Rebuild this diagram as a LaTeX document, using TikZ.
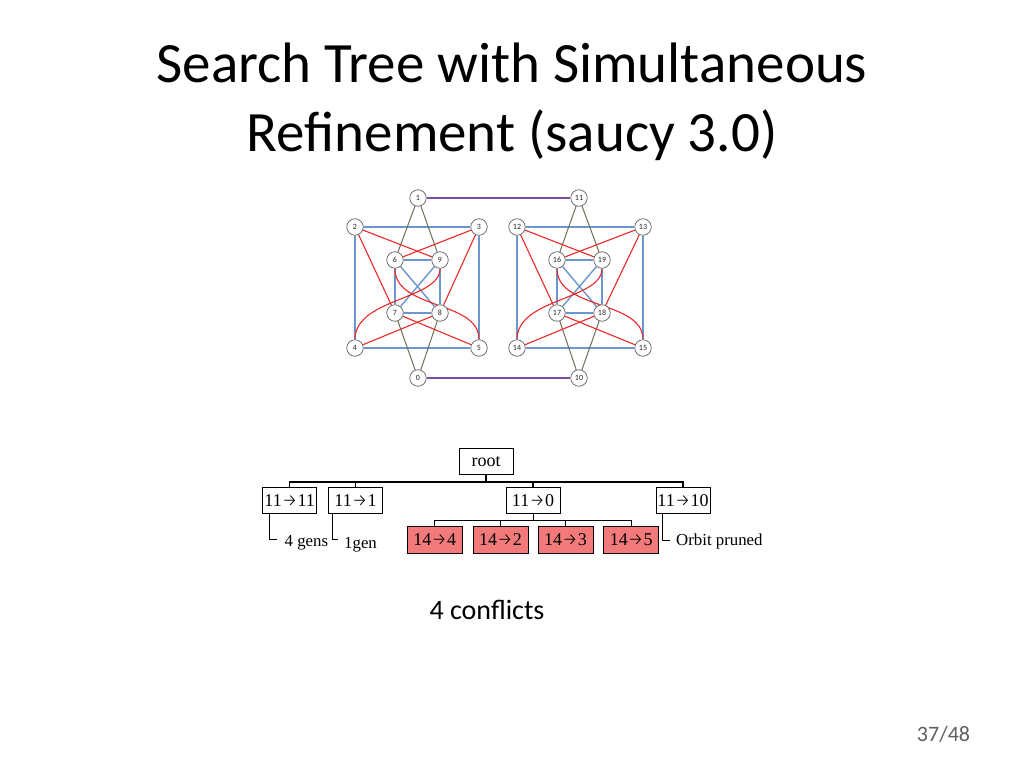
\documentclass[tikz,border=0pt]{standalone}
\usepackage{fontspec}
\setmainfont{Liberation Serif}
\newfontfamily\calibri{Carlito}
\newfontfamily\arrowfont{Fira Sans Light}
\newcommand{\arr}{{\arrowfont\fontsize{17.5}{18}\selectfont →}}
\usetikzlibrary{calc,backgrounds}
\pgfdeclarelayer{bottom}
\pgfsetlayers{bottom,background,main}
\definecolor{edgeblue}{RGB}{108,150,205}
\definecolor{edgered}{RGB}{236,40,40}
\definecolor{edgeolive}{RGB}{112,112,88}
\definecolor{edgepurple}{RGB}{125,75,160}
\definecolor{nodegray}{RGB}{95,95,95}
\definecolor{boxred}{RGB}{242,122,122}
\definecolor{pagegray}{RGB}{95,95,95}
\begin{document}
\begin{tikzpicture}[x=1pt,y=-1pt,
  gnode/.style={circle, draw=nodegray, fill=white, minimum size=16.5pt, inner sep=0pt, line width=0.7pt, text=black!85, font=\calibri\fontsize{8}{8}\selectfont},
  tbox/.style={draw=black, line width=0.8pt, fill=white, minimum width=54pt, minimum height=26pt, inner sep=0pt, font=\fontsize{18}{20}\selectfont},
  rbox/.style={tbox, fill=boxred, minimum width=55pt, minimum height=27pt},
  blueE/.style={draw=edgeblue, line width=1.4pt},
  redE/.style={draw=edgered, line width=1.1pt},
  oliveE/.style={draw=edgeolive, line width=1pt},
  purpE/.style={draw=edgepurple, line width=1.2pt},
  conn/.style={draw=black, line width=1.3pt},
  lconn/.style={draw=black, line width=0.9pt},
  note/.style={inner sep=0pt, anchor=base west, font=\fontsize{16.8}{18}\selectfont}
]
\begin{pgfonlayer}{bottom}
\fill[white] (0,0) rectangle (1024,768);
\end{pgfonlayer}
\useasboundingbox (0,0) rectangle (1024,768);

% title
\node[anchor=base, inner sep=0pt, font=\calibri\fontsize{57}{70}\selectfont] (title1) at (512,82) {Search Tree with Simultaneous};
\node[anchor=base, inner sep=0pt, font=\calibri\fontsize{57}{70}\selectfont] (title2) at (512,151) {Refinement (saucy 3.0)};

% left graph nodes
\node[gnode] (n1) at (418,198) {1};
\node[gnode] (n2) at (355,227) {2};
\node[gnode] (n3) at (479,227) {3};
\node[gnode] (n6) at (395,260) {6};
\node[gnode] (n9) at (440,260) {9};
\node[gnode] (n7) at (395,313) {7};
\node[gnode] (n8) at (440,313) {8};
\node[gnode] (n4) at (355,348) {4};
\node[gnode] (n5) at (479,348) {5};
\node[gnode] (n0) at (418,378) {0};
% right graph nodes
\node[gnode] (n11) at (579,198) {11};
\node[gnode] (n12) at (517,227) {12};
\node[gnode] (n13) at (643,227) {13};
\node[gnode] (n16) at (557,260) {16};
\node[gnode] (n19) at (602,260) {19};
\node[gnode] (n17) at (557,313) {17};
\node[gnode] (n18) at (602,313) {18};
\node[gnode] (n14) at (517,348) {14};
\node[gnode] (n15) at (643,348) {15};
\node[gnode] (n10) at (579,378) {10};

\begin{pgfonlayer}{background}
  % purple links
  \draw[purpE] (n1) -- (n11);
  \draw[purpE] (n0) -- (n10);
  % left graph
  \draw[blueE] (n2) -- (n3) -- (n5) -- (n4) -- (n2);
  \draw[blueE] (n6) -- (n9) -- (n8) -- (n7) -- (n6);
  \draw[blueE] (n6) -- (n8);
  \draw[blueE] (n9) -- (n7);
  \draw[oliveE] (n1) -- (n6);
  \draw[oliveE] (n1) -- (n9);
  \draw[oliveE] (n0) -- (n7);
  \draw[oliveE] (n0) -- (n8);
  \draw[redE] (n2) -- (n9);
  \draw[redE] (n3) -- (n6);
  \draw[redE] (n2) -- (n7);
  \draw[redE] (n3) -- (n8);
  \draw[redE] (n4) -- (n8);
  \draw[redE] (n5) -- (n7);
  \draw[redE] (n4) .. controls ($(n4)+(0,-50)$) and ($(n9)+(0,40)$) .. (n9);
  \draw[redE] (n6) .. controls ($(n6)+(0,50)$) and ($(n5)+(0,-48)$) .. (n5);
  % right graph
  \draw[blueE] (n12) -- (n13) -- (n15) -- (n14) -- (n12);
  \draw[blueE] (n16) -- (n19) -- (n18) -- (n17) -- (n16);
  \draw[blueE] (n16) -- (n18);
  \draw[blueE] (n19) -- (n17);
  \draw[oliveE] (n11) -- (n16);
  \draw[oliveE] (n11) -- (n19);
  \draw[oliveE] (n10) -- (n17);
  \draw[oliveE] (n10) -- (n18);
  \draw[redE] (n12) -- (n19);
  \draw[redE] (n13) -- (n16);
  \draw[redE] (n12) -- (n17);
  \draw[redE] (n13) -- (n18);
  \draw[redE] (n14) -- (n18);
  \draw[redE] (n15) -- (n17);
  \draw[redE] (n14) .. controls ($(n14)+(0,-50)$) and ($(n19)+(0,40)$) .. (n19);
  \draw[redE] (n16) .. controls ($(n16)+(0,50)$) and ($(n15)+(0,-48)$) .. (n15);
\end{pgfonlayer}

% search tree
\node[tbox] (root) at (486,461.5) {root};
\node[tbox] (c1) at (289.7,500.3) {11\arr11};
\node[tbox] (c2) at (355.5,500.3) {11\arr1};
\node[tbox] (c3) at (533,500.3) {11\arr0};
\node[tbox] (c4) at (683,500.3) {11\arr10};
\node[rbox] (d1) at (434.8,539.5) {14\arr4};
\node[rbox] (d2) at (500.5,539.5) {14\arr2};
\node[rbox] (d3) at (565.5,539.5) {14\arr3};
\node[rbox] (d4) at (631.2,539.5) {14\arr5};

\coordinate (bus1) at (486,482);
\coordinate (bus2) at (533,520.7);
\draw[conn] (root.south) -- (root.south |- bus1);
\draw[conn] (c1.north) -- (c1.north |- bus1) -- (c4.north |- bus1) -- (c4.north);
\draw[conn] (c2.north) -- (c2.north |- bus1);
\draw[conn] (c3.north) -- (c3.north |- bus1);
\draw[lconn] (c3.south) -- (c3.south |- bus2);
\draw[lconn] (d1.north) -- (d1.north |- bus2) -- (d4.north |- bus2) -- (d4.north);
\draw[lconn] (d2.north) -- (d2.north |- bus2);
\draw[lconn] (d3.north) -- (d3.north |- bus2);

\node[note] (g1) at (284.5,546) {4 gens};
\node[note] (g2) at (344,548) {1gen};
\node[note] (g3) at (676,545) {Orbit pruned};
\coordinate (e1) at (277,539.5);
\coordinate (e2) at (338,539.5);
\coordinate (e3) at (670,540);
\draw[lconn] ($(c1.south west)+(7.5,0)$) |- (e1);
\draw[lconn] ($(c2.south west)+(4.5,0)$) |- (e2);
\draw[lconn] ($(c4.south west)+(6.5,0)$) |- (e3);

\node[anchor=base, inner sep=0pt, font=\calibri\fontsize{28}{32}\selectfont] (conf) at (487,619) {4 conflicts};
\node[anchor=base, inner sep=0pt, text=pagegray, font=\calibri\fontsize{22}{26}\selectfont] (page) at (943.5,741.5) {37/48};
\end{tikzpicture}
\end{document}
